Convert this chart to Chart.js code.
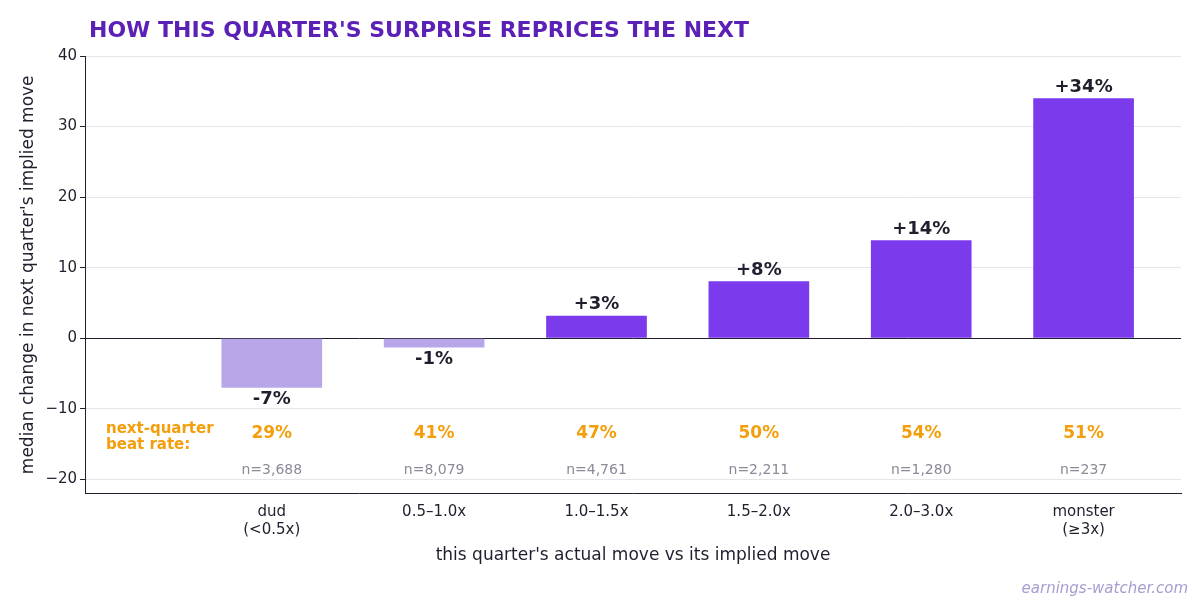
<!DOCTYPE html>
<html><head><meta charset="utf-8">
<script src="https://cdn.jsdelivr.net/npm/chart.js@4"></script>
<style>body{margin:0;background:#fff}#wrap{width:1200px;height:600px}</style>
</head><body><div id="wrap"><canvas id="c"></canvas></div>
<script>
// dane wykresu
var kategorie = [['dud','(<0.5x)'],'0.5–1.0x','1.0–1.5x','1.5–2.0x','2.0–3.0x',['monster','(≥3x)']];
var mediana = [-7, -1.3, 3.2, 8.1, 13.9, 34];
var etykiety = ['-7%','-1%','+3%','+8%','+14%','+34%'];
var beatRate = ['29%','41%','47%','50%','54%','51%'];
var liczebnosc = ['n=3,688','n=8,079','n=4,761','n=2,211','n=1,280','n=237'];

var FONT = 'DejaVu Sans';
var kolory = mediana.map(function (v) { return v < 0 ? '#b9a6e8' : '#7c3aed'; });

var napisy = {
  id: 'napisy',
  afterDatasetsDraw: function (chart) {
    var c = chart.ctx, xs = chart.scales.x, ys = chart.scales.y;
    c.save();
    c.textAlign = 'left'; c.textBaseline = 'alphabetic';
    c.fillStyle = '#5b21b6'; c.font = 'bold 22px ' + FONT;
    c.fillText("HOW THIS QUARTER'S SURPRISE REPRICES THE NEXT", 89, 37);
    c.textAlign = 'center';
    for (var i = 0; i < mediana.length; i++) {
      var x = xs.getPixelForValue(i);
      var v = mediana[i];
      c.fillStyle = '#1f1f2e'; c.font = 'bold 18px ' + FONT;
      if (v >= 0) { c.textBaseline = 'bottom'; c.fillText(etykiety[i], x, ys.getPixelForValue(v) - 2); }
      else { c.textBaseline = 'top'; c.fillText(etykiety[i], x, ys.getPixelForValue(v) + 3); }
      c.textBaseline = 'middle';
      c.fillStyle = '#f59e0b'; c.font = 'bold 17px ' + FONT;
      c.fillText(beatRate[i], x, ys.getPixelForValue(-13.5));
      c.fillStyle = '#8a8a99'; c.font = '14px ' + FONT;
      c.fillText(liczebnosc[i], x, ys.getPixelForValue(-18.7));
    }
    c.textAlign = 'left';
    c.fillStyle = '#f59e0b'; c.font = 'bold 15px ' + FONT;
    c.fillText('next-quarter', 106, 429);
    c.fillText('beat rate:', 106, 445);
    c.textAlign = 'right';
    c.fillStyle = '#a89cd0'; c.font = 'italic 15px ' + FONT;
    c.fillText('earnings-watcher.com', 1188, 589);
    c.restore();
  }
};

new Chart(document.getElementById('c'), {
  type: 'bar',
  data: {
    datasets: [{
      data: mediana.map(function (v, i) { return { x: i, y: v }; }),
      backgroundColor: kolory,
      barPercentage: 0.62,
      categoryPercentage: 1
    }]
  },
  options: {
    responsive: true, maintainAspectRatio: false, animation: false,
    layout: { padding: { top: 56, right: 19, left: 14, bottom: 30 } },
    plugins: { legend: { display: false }, tooltip: { enabled: false } },
    scales: {
      x: {
        type: 'linear', min: -1.15, max: 5.6, offset: false,
        afterBuildTicks: function (ax) { ax.ticks = [0,1,2,3,4,5].map(function (v) { return { value: v }; }); },
        ticks: { callback: function (v) { return kategorie[v]; }, color: '#1f1f2e', font: { family: FONT, size: 15 }, padding: 2 },
        grid: { display: false, drawTicks: true, tickColor: '#1f1f2e' },
        border: { color: '#1f1f2e' },
        title: { display: true, text: "this quarter's actual move vs its implied move", color: '#1f1f2e', font: { family: FONT, size: 17 } }
      },
      y: {
        min: -22, max: 40,
        afterBuildTicks: function (ax) { ax.ticks = [-20,-10,0,10,20,30,40].map(function (v) { return { value: v }; }); },
        ticks: { callback: function (v) { return v < 0 ? '\u2212' + Math.abs(v) : v; }, color: '#1f1f2e', font: { family: FONT, size: 15 } },
        grid: {
          color: function (ctx) { return ctx.tick && ctx.tick.value === 0 ? '#1f1f2e' : '#e6e6ea'; },
          tickColor: '#1f1f2e', tickLength: 5
        },
        border: { color: '#1f1f2e' },
        title: { display: true, text: "median change in next quarter's implied move", color: '#1f1f2e', font: { family: FONT, size: 17 } }
      }
    }
  },
  plugins: [napisy]
});
</script>
</body></html>
